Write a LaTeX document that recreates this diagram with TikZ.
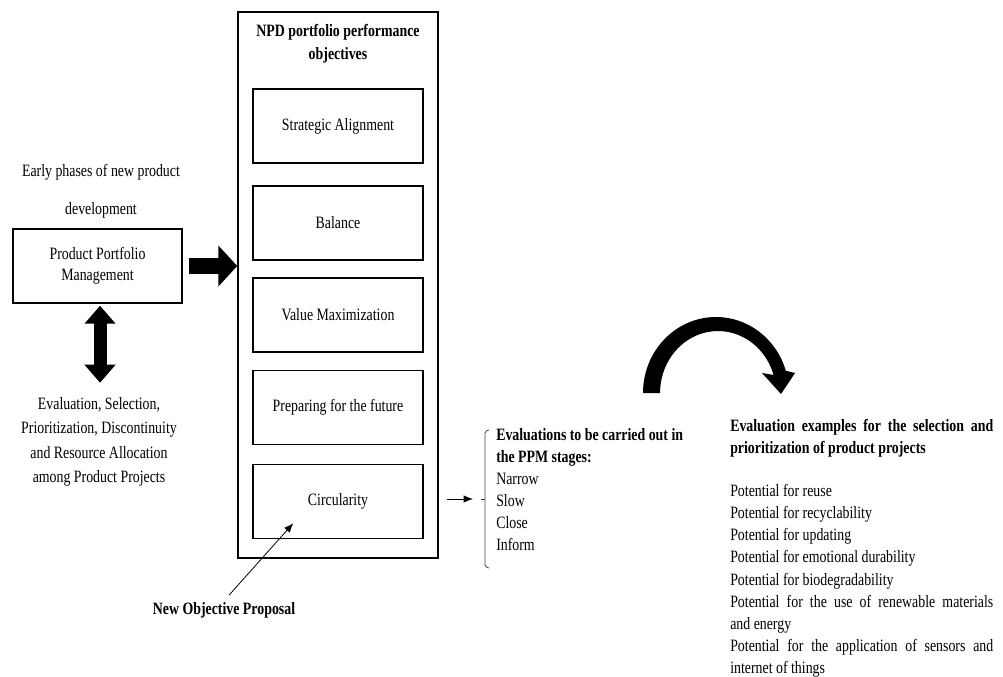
\documentclass[tikz,border=0pt]{standalone}
\usepackage{fontspec}
\setmainfont[FakeStretch=0.8]{Liberation Serif}
\usetikzlibrary{arrows.meta,positioning,calc}

\begin{document}
\begin{tikzpicture}[x=0.75pt,y=-0.75pt,
    txt/.style={font=\fontsize{13pt}{#1}\selectfont, inner sep=0pt, align=center},
    btxt/.style={font=\fontsize{13pt}{#1}\selectfont\bfseries, inner sep=0pt, align=center},
    objbox/.style={draw, line width=1.1pt, minimum width=127.5pt, minimum height=55.5pt,
        font=\fontsize{13pt}{15pt}\selectfont},
    fatarrow/.style={line width=12pt, -{Triangle[length=14.25pt,width=30pt]}},
    fatboth/.style={line width=9.75pt,
        {Triangle[length=13.5pt,width=22.5pt]}-{Triangle[length=13.5pt,width=22.5pt]}},
    thinarrow/.style={line width=0.6pt, -{Latex[length=7pt,width=5.5pt]}}]
    \useasboundingbox (0,0) rectangle (1003,677);

    % left part
    \node[txt=28.5pt] (early) at (101,191) {Early phases of new product\\development};
    \node[draw, line width=1.1pt, minimum width=126.75pt, minimum height=55.5pt, txt=15.75pt]
        (ppm) at (97.5,266) {Product Portfolio\\Management};
    \node[txt=18.4pt] (evals) at (99,442)
        {Evaluation, Selection,\\Prioritization, Discontinuity\\and Resource Allocation\\among Product Projects};

    % objectives
    \node[draw, line width=1.1pt, minimum width=150pt, minimum height=409.5pt] (npd) at (338,285) {};
    \node[btxt=17.25pt] (title) at (338,43.5) {NPD portfolio performance\\objectives};
    \node[objbox] (sa) at (338,126) {Strategic Alignment};
    \node[objbox] (bal) at (338,223) {Balance};
    \node[objbox] (vm) at (338,315) {Value Maximization};
    \node[objbox] (pf) at (338,407.5) {Preparing for the future};
    \node[objbox] (circ) at (338,501.5) {Circularity};

    \draw[fatarrow] ([xshift=4.5pt]ppm.east) -- (npd.west |- ppm.east);
    \draw[fatboth] ([xshift=1.9pt,yshift=-1.5pt]ppm.south) -- ++(0,77);

    \node[btxt=15pt] (prop) at (224,610) {New Objective Proposal};
    \draw[thinarrow] ([xshift=3.75pt,yshift=5pt]prop.north) -- ($(circ.south west)+(41,-16)$);

    % PPM stages
    \node[txt=16.5pt, align=left, anchor=north west] (stages) at (496,428)
        {\textbf{Evaluations to be carried out in}\\\textbf{the PPM stages:}\\Narrow\\Slow\\Close\\Inform};
    \coordinate (brk) at (481,499);
    \draw[black!75, line width=0.6pt, rounded corners=1.5pt]
        (489,430) -- (485,431) -- (485,567) -- (489,568);
    \draw[black!75, line width=0.6pt] (brk) -- ++(4,0);
    \draw[thinarrow] ($(npd.east |- brk)+(8,0)$) -- ($(brk)+(-8,0)$);

    % curved arrow
    \fill (643,393) arc[start angle=180, end angle=343, x radius=73, y radius=76]
        -- (795,373) -- (781,394) -- (762,373) -- (773.5,374.9)
        arc[start angle=343, end angle=180, x radius=58, y radius=62] -- cycle;

    % examples
    \node[btxt=16.5pt, text width=197.25pt, align=justify, anchor=north west] (exhead) at (730,419)
        {Evaluation examples for the selection and\linebreak prioritization of product projects};
    \node[txt=16.6pt, text width=197.25pt, align=justify, anchor=north west] (exlist) at (730,484)
        {Potential for reuse\\
        Potential for recyclability\\
        Potential for updating\\
        Potential for emotional durability\\
        Potential for biodegradability\\
        Potential for the use of renewable materials\linebreak and energy\\
        Potential for the application of sensors and\linebreak internet of things};
\end{tikzpicture}
\end{document}
